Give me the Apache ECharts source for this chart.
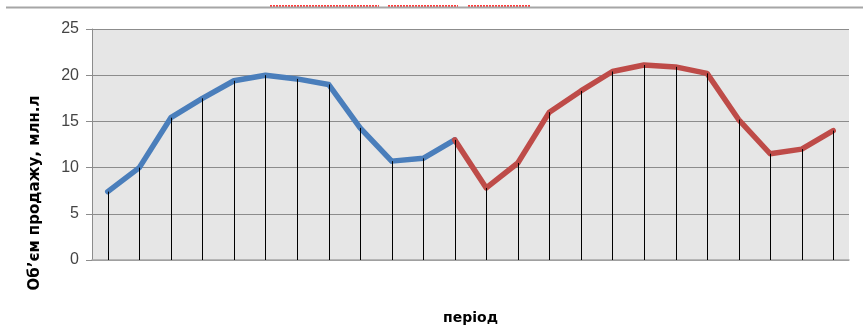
<!DOCTYPE html>
<html>
<head>
<meta charset="utf-8">
<script src="https://cdn.jsdelivr.net/npm/echarts@6/dist/echarts.min.js"></script>
<style>
  html, body { margin: 0; padding: 0; background: #fff; }
  #chart { width: 863px; height: 328px; }
</style>
</head>
<body>
<div id="chart"></div>
<script>
// Periods 1..24
const periods = Array.from({ length: 24 }, (_, i) => String(i + 1));

// Sales volume, first span (periods 1-12)
const firstSpan = [7.4, 10.0, 15.4, 17.5, 19.4, 20.0, 19.6, 19.0, 14.3, 10.7, 11.0, 13.0];
// Sales volume, second span (periods 12-24)
const secondSpan = [13.0, 7.8, 10.5, 16.0, 18.3, 20.4, 21.1, 20.9, 20.2, 15.2, 11.5, 12.0, 14.0];

const yTicks = [0, 5, 10, 15, 20, 25];

const blueData = periods.map((_, i) => (i < firstSpan.length ? firstSpan[i] : null));
const redData = periods.map((_, i) => (i >= 11 ? secondSpan[i - 11] : null));
const allValues = periods.map((_, i) => (i < 11 ? firstSpan[i] : secondSpan[i - 11]));

const chart = echarts.init(document.getElementById('chart'), null, { renderer: 'canvas' });

chart.setOption({
  animation: false,
  backgroundColor: '#ffffff',
  grid: {
    left: 92, right: 14, top: 29, bottom: 68,
    outerBoundsMode: 'none',
    containLabel: false,
    show: true, backgroundColor: '#e6e6e6', borderWidth: 0
  },
  xAxis: {
    type: 'category',
    data: periods,
    boundaryGap: true,
    axisLine: { show: true, lineStyle: { color: '#a6a6a6', width: 1.5 } },
    axisTick: { show: false },
    axisLabel: { show: false },
    splitLine: { show: false },
    name: 'період',
    nameLocation: 'middle',
    nameGap: 51,
    nameTextStyle: { fontFamily: 'DejaVu Sans', fontWeight: 'bold', fontSize: 14, color: '#000' }
  },
  yAxis: {
    type: 'value',
    min: yTicks[0],
    max: yTicks[yTicks.length - 1],
    interval: 5,
    axisLine: { show: true, lineStyle: { color: '#8c8c8c', width: 1 } },
    axisTick: { show: true, length: 6, lineStyle: { color: '#8c8c8c' } },
    axisLabel: {
      margin: 13,
      fontFamily: 'Liberation Sans, Arial, sans-serif',
      fontSize: 16,
      color: '#444444'
    },
    splitLine: { show: true, lineStyle: { color: '#8c8c8c', width: 1.2 } }
  },
  graphic: [
    {
      type: 'line', silent: true, z: 10,
      shape: { x1: 6, y1: 7.5, x2: 863, y2: 7.5 },
      style: { stroke: '#a6a6a6', lineWidth: 2 }
    },
    {
      type: 'group', silent: true, z: 11,
      children: [
        { type: 'line', shape: { x1: 270, y1: 6, x2: 379, y2: 6 }, style: { stroke: '#ff3b3b', lineWidth: 2, lineDash: [2, 1] } },
        { type: 'line', shape: { x1: 388, y1: 6, x2: 458, y2: 6 }, style: { stroke: '#ff3b3b', lineWidth: 2, lineDash: [2, 1] } },
        { type: 'line', shape: { x1: 468, y1: 6, x2: 531, y2: 6 }, style: { stroke: '#ff3b3b', lineWidth: 2, lineDash: [2, 1] } }
      ]
    },
    {
      type: 'text', silent: true, z: 10,
      x: 35, y: 193, rotation: Math.PI / 2,
      style: {
        text: 'Об\u2019єм продажу, млн.л',
        fontFamily: 'DejaVu Sans', fontWeight: 'bold', fontSize: 15,
        fill: '#000', align: 'center', verticalAlign: 'middle'
      }
    }
  ],
  series: [
    {
      name: 'span1',
      type: 'line',
      data: blueData,
      symbol: 'none',
      connectNulls: false,
      z: 3,
      lineStyle: { color: '#4a7ebb', width: 5.5, cap: 'round', join: 'round' }
    },
    {
      name: 'span2',
      type: 'line',
      data: redData,
      symbol: 'none',
      connectNulls: false,
      z: 4,
      lineStyle: { color: '#be4b48', width: 5.5, cap: 'round', join: 'round' }
    },
    {
      // Drop lines from each point down to the axis
      name: 'drops',
      type: 'custom',
      z: 5,
      data: allValues.map((v, i) => [i, v]),
      renderItem: function (params, api) {
        const top = api.coord([api.value(0), api.value(1)]);
        const bottom = api.coord([api.value(0), 0]);
        const x = Math.round(top[0]) + 0.5;
        return {
          type: 'line',
          shape: { x1: x, y1: top[1], x2: x, y2: bottom[1] },
          style: { stroke: '#000', lineWidth: 1 }
        };
      }
    }
  ]
});
</script>
</body>
</html>
